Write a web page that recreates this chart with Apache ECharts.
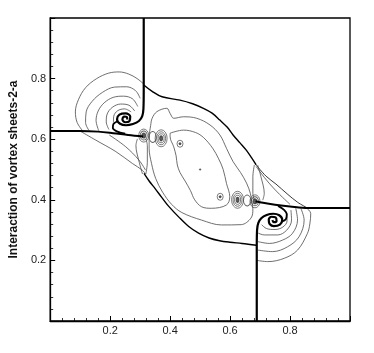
<!DOCTYPE html>
<html>
<head>
<meta charset="utf-8">
<script src="https://cdn.jsdelivr.net/npm/echarts@6/dist/echarts.min.js"></script>
<style>
  html, body { margin: 0; padding: 0; background: #fff; }
  #chart { width: 374px; height: 353px; }
</style>
</head>
<body>
<div id="chart"></div>
<script>
// axis ticks
const tickValues = [0.2, 0.4, 0.6, 0.8];
const axisName = 'Interaction of vortex sheets-2-a';

// thick slip lines (vortex sheets) ending in the two spirals
const topSheet = [[0.312,1.0],[0.312,0.76],[0.311,0.70],[0.307,0.676],[0.296,0.660],[0.276,0.650],[0.253,0.646],[0.233,0.651],[0.223,0.666],[0.231,0.681],[0.252,0.685],[0.267,0.675],[0.264,0.659],[0.250,0.656],[0.241,0.665],[0.246,0.675],[0.256,0.673],[0.257,0.665]];
const leftSheet = [[0,0.627],[0.10,0.627],[0.16,0.625],[0.21,0.620],[0.26,0.614],[0.31,0.609]];
const leftBranch = [[0.226,0.660],[0.211,0.650],[0.209,0.637],[0.222,0.626],[0.25,0.618]];
const bottomSheet = [[0.689,0],[0.689,0.24],[0.690,0.30],[0.694,0.323],[0.704,0.339],[0.722,0.350],[0.744,0.354],[0.764,0.349],[0.774,0.334],[0.766,0.318],[0.746,0.313],[0.732,0.320],[0.729,0.334],[0.738,0.344],[0.752,0.342],[0.755,0.330],[0.746,0.326],[0.741,0.333]];
const rightSheet = [[1,0.373],[0.86,0.373],[0.80,0.378],[0.75,0.384],[0.71,0.390],[0.685,0.395]];
const rightBranch = [[0.772,0.328],[0.786,0.336],[0.789,0.352],[0.781,0.366],[0.76,0.380]];

// shock arcs
const upperArc = [[0.312,0.779],[0.340,0.758],[0.373,0.740],[0.433,0.729],[0.475,0.717],[0.511,0.702],[0.540,0.686],[0.566,0.663],[0.590,0.640],[0.610,0.614],[0.633,0.588],[0.654,0.564],[0.672,0.538],[0.687,0.515]];
const upperArcTail = [[0.687,0.515],[0.720,0.478],[0.753,0.452],[0.790,0.420],[0.825,0.392],[0.858,0.373]];
const lowerArc = [[0.313,0.487],[0.330,0.462],[0.350,0.437],[0.372,0.408],[0.394,0.380],[0.430,0.342],[0.462,0.312],[0.495,0.290],[0.530,0.274],[0.565,0.265],[0.600,0.260],[0.640,0.256],[0.688,0.250]];
const leftFan1 = [[0.103,0.625],[0.152,0.597],[0.219,0.559],[0.274,0.520],[0.307,0.498],[0.318,0.485]];
const leftFan2 = [[0.197,0.614],[0.252,0.575],[0.296,0.531],[0.318,0.498]];
const rightFan = [[0.80,0.385],[0.765,0.418],[0.730,0.455],[0.700,0.492],[0.687,0.510]];

// density contours
const centralLoop = [[0.400,0.620],[0.445,0.630],[0.485,0.622],[0.512,0.605],[0.542,0.570],[0.562,0.535],[0.577,0.500],[0.588,0.454],[0.599,0.410],[0.588,0.383],[0.538,0.372],[0.505,0.377],[0.482,0.400],[0.468,0.430],[0.450,0.462],[0.433,0.490],[0.424,0.515],[0.420,0.545],[0.412,0.575],[0.400,0.608],[0.400,0.620]];
const secondLoop = [[0.330,0.612],[0.335,0.645],[0.340,0.669],[0.356,0.691],[0.389,0.702],[0.400,0.685],[0.412,0.669],[0.445,0.674],[0.489,0.669],[0.533,0.647],[0.566,0.614],[0.588,0.570],[0.610,0.526],[0.635,0.490],[0.655,0.455],[0.668,0.420],[0.672,0.395],[0.676,0.370],[0.670,0.340],[0.637,0.318],[0.571,0.317],[0.505,0.333],[0.439,0.358],[0.405,0.385],[0.375,0.425],[0.352,0.470],[0.338,0.520],[0.330,0.570],[0.330,0.612]];
const rightStrip1 = [[0.681,0.515],[0.676,0.476],[0.676,0.421],[0.681,0.399]];
const rightStrip2 = [[0.692,0.515],[0.703,0.476],[0.714,0.421],[0.709,0.399]];
const leftStrip1 = [[0.319,0.485],[0.324,0.524],[0.324,0.579],[0.319,0.601]];
const leftStrip2 = [[0.308,0.485],[0.297,0.524],[0.286,0.579],[0.291,0.601]];

const lC1 = [[0.311,0.783],[0.290,0.800],[0.262,0.815],[0.230,0.822],[0.195,0.818],[0.155,0.800],[0.118,0.770],[0.094,0.730],[0.084,0.690],[0.090,0.655],[0.108,0.628]];
const lC2 = [[0.300,0.735],[0.285,0.760],[0.255,0.773],[0.215,0.772],[0.175,0.755],[0.140,0.725],[0.120,0.690],[0.118,0.655],[0.130,0.628]];
const lC3 = [[0.292,0.708],[0.275,0.733],[0.245,0.742],[0.210,0.738],[0.180,0.720],[0.160,0.693],[0.153,0.662],[0.162,0.628]];
const lC4 = [[0.282,0.693],[0.263,0.712],[0.235,0.716],[0.207,0.705],[0.190,0.683],[0.187,0.657],[0.196,0.632]];
const lC5 = [[0.270,0.690],[0.248,0.700],[0.225,0.694],[0.212,0.676],[0.211,0.655]];

const rC1 = [[0.855,0.373],[0.869,0.355],[0.866,0.320],[0.858,0.289],[0.825,0.234],[0.781,0.207],[0.726,0.196],[0.690,0.200]];
const rC2 = [[0.836,0.372],[0.847,0.333],[0.830,0.278],[0.792,0.245],[0.742,0.229],[0.693,0.234]];
const rC3 = [[0.819,0.372],[0.825,0.333],[0.808,0.289],[0.775,0.267],[0.731,0.256],[0.693,0.262]];
const rC4 = [[0.803,0.366],[0.805,0.333],[0.789,0.300],[0.759,0.284],[0.714,0.284],[0.694,0.290]];
const rC5 = [[0.790,0.356],[0.790,0.330],[0.776,0.310],[0.750,0.302],[0.722,0.305],[0.705,0.318]];

// vortex cores
const bigVortices = [[0.370,0.603],[0.625,0.400]];
const sheetVortices = [[0.312,0.612],[0.683,0.395]];
const smallVortices = [[0.433,0.585],[0.567,0.410]];
const openCells = [[0.342,0.607],[0.657,0.398]];
const centreDot = [[0.5,0.5]];

const ellipse = 'path://M0,5a5,5 0 1,0 10,0a5,5 0 1,0 -10,0z';

function line(data, width, color, z) {
  return {
    type: 'line', data: data, smooth: 0.35, showSymbol: false, silent: true,
    lineStyle: { width: width, color: color }, z: z
  };
}
function rings(data, size, width, fill) {
  return {
    type: 'scatter', data: data, symbol: ellipse, symbolSize: size, silent: true,
    itemStyle: { color: fill || 'rgba(0,0,0,0)', borderColor: '#333', borderWidth: width }, z: 4
  };
}

const thin = '#4a4a4a';
const series = [
  line(centralLoop, 0.8, thin, 2),
  line(secondLoop, 0.8, thin, 2),
  line(rightStrip1, 0.8, thin, 2),
  line(rightStrip2, 0.8, thin, 2),
  line(leftStrip1, 0.8, thin, 2),
  line(leftStrip2, 0.8, thin, 2),
  line(lC1, 0.8, thin, 2), line(lC2, 0.8, thin, 2), line(lC3, 0.8, thin, 2),
  line(lC4, 0.8, thin, 2), line(lC5, 0.8, thin, 2),
  line(rC1, 0.8, thin, 2), line(rC2, 0.8, thin, 2), line(rC3, 0.8, thin, 2),
  line(rC4, 0.8, thin, 2), line(rC5, 0.8, thin, 2),
  line(leftFan1, 0.8, thin, 2), line(leftFan2, 0.8, thin, 2),
  line(rightFan, 0.8, thin, 2),
  line(upperArcTail, 0.9, '#222', 3),
  line(upperArc, 1.4, '#000', 3),
  line(lowerArc, 1.4, '#000', 3),
  line(topSheet, 2.2, '#000', 5),
  line(leftSheet, 2, '#000', 5),
  line(leftBranch, 1.8, '#000', 5),
  line(bottomSheet, 2.2, '#000', 5),
  line(rightSheet, 2, '#000', 5),
  line(rightBranch, 1.8, '#000', 5),
  rings(bigVortices, [12, 17], 0.8), rings(bigVortices, [9, 13], 0.8),
  rings(bigVortices, [6, 9], 0.8), rings(bigVortices, [3, 5], 1, '#333'),
  rings(sheetVortices, [10, 13], 0.8), rings(sheetVortices, [7, 9], 0.9),
  rings(sheetVortices, [4, 5], 1, '#333'),
  rings(smallVortices, [6, 7], 0.8), rings(smallVortices, [2, 2], 1, '#333'),
  rings(openCells, [7, 11], 0.8),
  rings(centreDot, [1.5, 1.5], 0.6, '#333')
];

const axisCommon = {
  type: 'value', min: 0, max: 1, interval: 0.2,
  axisLine: { show: true, lineStyle: { color: '#000', width: 1.3 } },
  axisTick: { show: true, inside: true, length: 5, lineStyle: { color: '#000', width: 1 } },
  minorTick: { show: true, splitNumber: 5, length: 3, lineStyle: { color: '#000', width: 0.8 } },
  splitLine: { show: false },
  axisLabel: {
    showMinLabel: false, showMaxLabel: false, color: '#222', fontSize: 11, margin: 4,
    fontFamily: 'Liberation Sans',
    formatter: v => tickValues.indexOf(Math.round(v * 10) / 10) >= 0 ? v.toFixed(1) : ''
  }
};

const chart = echarts.init(document.getElementById('chart'), null, { renderer: 'canvas' });
chart.setOption({
  animation: false,
  backgroundColor: '#fff',
  grid: { left: 47, top: 18, width: 303, height: 303, show: true, borderColor: '#000', borderWidth: 1.3, backgroundColor: 'transparent' },
  xAxis: Object.assign({}, axisCommon),
  yAxis: Object.assign({}, axisCommon, {
    name: axisName, nameLocation: 'middle', nameGap: 17,
    nameTextStyle: { fontWeight: 'bold', fontSize: 12, color: '#111', fontFamily: 'Liberation Sans' }
  }),
  series: series
});
</script>
</body>
</html>
